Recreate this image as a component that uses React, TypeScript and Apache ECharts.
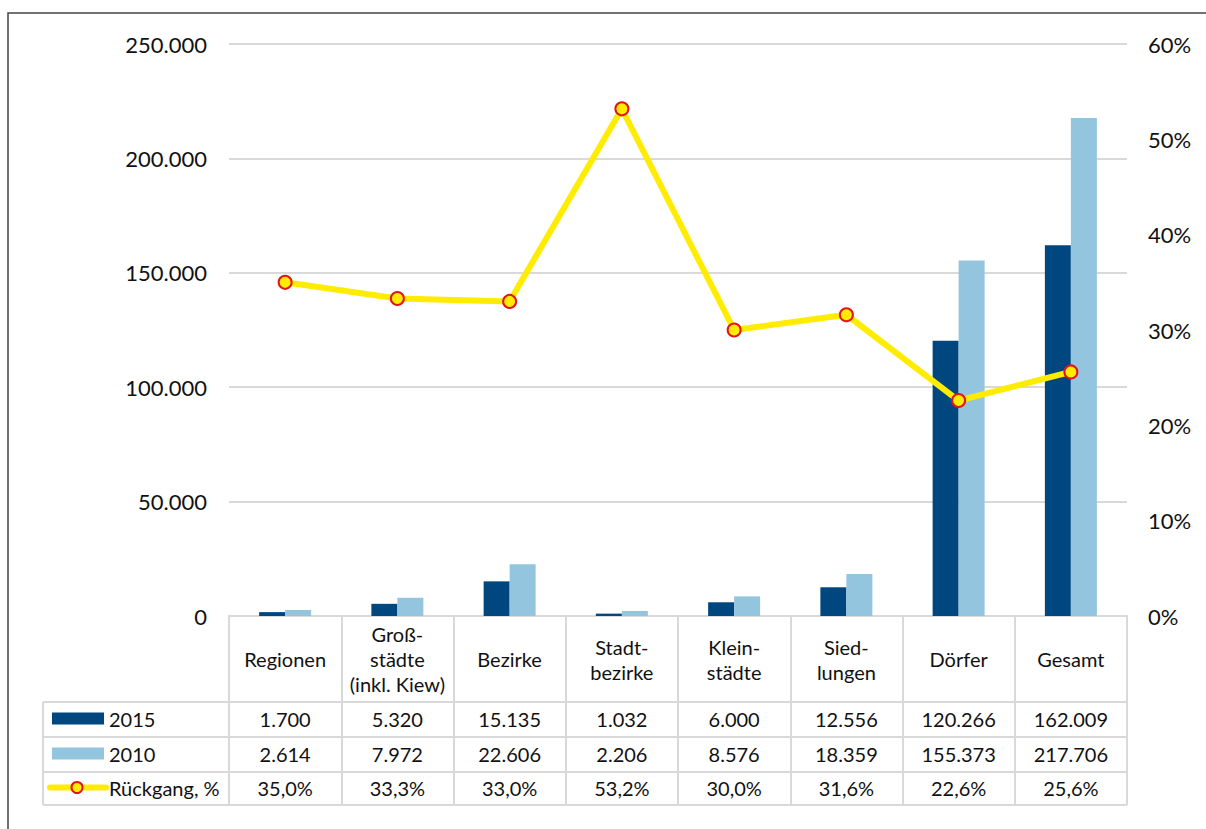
import React, { useEffect, useRef } from "react";
import * as echarts from "echarts";

const categories = [
  "Regionen",
  "Groß-\nstädte\n(inkl. Kiew)",
  "Bezirke",
  "Stadt-\nbezirke",
  "Klein-\nstädte",
  "Sied-\nlungen",
  "Dörfer",
  "Gesamt",
];
const values2015 = [1700, 5320, 15135, 1032, 6000, 12556, 120266, 162009];
const values2010 = [2614, 7972, 22606, 2206, 8576, 18359, 155373, 217706];
const decline = [35.0, 33.3, 33.0, 53.2, 30.0, 31.6, 22.6, 25.6];
const seriesNames = ["2015", "2010", "Rückgang, %"];

const FONT = "Lato";
const C_DARK = "#00467F";
const C_LIGHT = "#94C5DE";
const C_YELLOW = "#FFEC00";
const C_RED = "#E4131B";
const C_GRID = "#D9D9D9";

const W = 1206;
const H = 829;
const GRID_L = 229;
const GRID_R = 1127;
const GRID_T = 44;
const GRID_B = 616;
const ROW_LINES = [702, 737, 772, 805];
const TABLE_L = 43;

const fmtThousands = (v: number) =>
  String(Math.round(v)).replace(/\B(?=(\d{3})+(?!\d))/g, ".");
const fmtPct = (v: number) => v.toFixed(1).replace(".", ",") + "%";

export default function App() {
  const ref = useRef<HTMLDivElement>(null);
  useEffect(() => {
    if (!ref.current) return;
    const chart = echarts.init(ref.current, null, { renderer: "svg" });
    const n = categories.length;
    const colW = (GRID_R - GRID_L) / n;
    const rowsText = [
      values2015.map(fmtThousands),
      values2010.map(fmtThousands),
      decline.map(fmtPct),
    ];
    const graphics: any[] = [];
    // outer border
    graphics.push({
      type: "rect",
      shape: { x: 8, y: 13, width: 1400, height: 1000 },
      style: { fill: "none", stroke: "#444", lineWidth: 1.5 },
      silent: true,
    });
    // table horizontal lines
    ROW_LINES.forEach((y) =>
      graphics.push({
        type: "line",
        shape: { x1: TABLE_L, y1: y, x2: GRID_R, y2: y },
        style: { stroke: C_GRID, lineWidth: 2 },
      })
    );
    graphics.push({
      type: "line",
      shape: { x1: TABLE_L, y1: ROW_LINES[0], x2: TABLE_L, y2: ROW_LINES[3] },
      style: { stroke: C_GRID, lineWidth: 2 },
    });
    // table values
    rowsText.forEach((row, r) => {
      const cy = (ROW_LINES[r] + ROW_LINES[r + 1]) / 2 - 1;
      row.forEach((t, i) =>
        graphics.push({
          type: "text",
          x: GRID_L + colW * (i + 0.5),
          y: cy,
          style: {
            text: t,
            fontFamily: FONT,
            fontSize: 20,
            fill: "#111",
            align: "center",
            verticalAlign: "middle",
          },
        })
      );
      // legend labels
      graphics.push({
        type: "text",
        x: 109,
        y: cy,
        style: {
          text: seriesNames[r],
          fontFamily: FONT,
          fontSize: 20,
          fill: "#111",
          align: "left",
          verticalAlign: "middle",
        },
      });
    });
    // legend keys
    [C_DARK, C_LIGHT].forEach((c, r) => {
      const cy = (ROW_LINES[r] + ROW_LINES[r + 1]) / 2 - 1;
      graphics.push({
        type: "rect",
        shape: { x: 52, y: cy - 6, width: 52, height: 12 },
        style: { fill: c },
      });
    });
    {
      const cy = (ROW_LINES[2] + ROW_LINES[3]) / 2 - 1;
      graphics.push({
        type: "line",
        shape: { x1: 50, y1: cy, x2: 106, y2: cy },
        style: { stroke: C_YELLOW, lineWidth: 6, lineCap: "round" },
      });
      graphics.push({
        type: "circle",
        shape: { cx: 77, cy, r: 5.5 },
        style: { fill: C_YELLOW, stroke: C_RED, lineWidth: 2 },
      });
    }

    chart.setOption({
      animation: false,
      backgroundColor: "#fff",
      textStyle: { fontFamily: FONT },
      grid: {
        left: GRID_L,
        right: W - GRID_R,
        top: GRID_T,
        bottom: H - GRID_B,
        containLabel: false,
      },
      xAxis: {
        type: "category",
        data: categories,
        axisLine: { show: true, lineStyle: { color: C_GRID, width: 2 } },
        axisTick: {
          show: true,
          length: ROW_LINES[3] - GRID_B,
          lineStyle: { color: C_GRID, width: 2 },
        },
        axisLabel: {
          interval: 0,
          margin: 43,
          verticalAlign: "middle",
          fontFamily: FONT,
          fontSize: 20,
          lineHeight: 25,
          color: "#111",
          align: "center",
        },
      },
      yAxis: [
        {
          type: "value",
          min: 0,
          max: 250000,
          interval: 50000,
          axisLine: { show: false },
          axisTick: { show: false },
          splitLine: { lineStyle: { color: C_GRID, width: 2 } },
          axisLabel: {
            formatter: (v: number) => fmtThousands(v),
            fontFamily: FONT,
            fontSize: 22,
            color: "#111",
            margin: 22,
          },
        },
        {
          type: "value",
          min: 0,
          max: 60,
          interval: 10,
          position: "right",
          axisLine: { show: false },
          axisTick: { show: false },
          splitLine: { show: false },
          axisLabel: {
            formatter: (v: number) => v + "%",
            fontFamily: FONT,
            fontSize: 22,
            color: "#111",
            margin: 21,
          },
        },
      ],
      series: [
        {
          name: seriesNames[0],
          type: "bar",
          data: values2015,
          barWidth: 26,
          barGap: "0%",
          itemStyle: { color: C_DARK },
        },
        {
          name: seriesNames[1],
          type: "bar",
          data: values2010,
          barWidth: 26,
          barGap: "0%",
          itemStyle: { color: C_LIGHT },
        },
        {
          name: seriesNames[2],
          type: "line",
          yAxisIndex: 1,
          data: decline,
          symbol: "circle",
          symbolSize: 13,
          z: 5,
          lineStyle: { color: C_YELLOW, width: 6 },
          itemStyle: { color: C_YELLOW, borderColor: C_RED, borderWidth: 2 },
        },
      ],
      graphic: graphics,
    });
    return () => chart.dispose();
  }, []);
  return (
    <div
      ref={ref}
      style={{ position: "fixed", left: 0, top: 0, width: W, height: H }}
    />
  );
}
